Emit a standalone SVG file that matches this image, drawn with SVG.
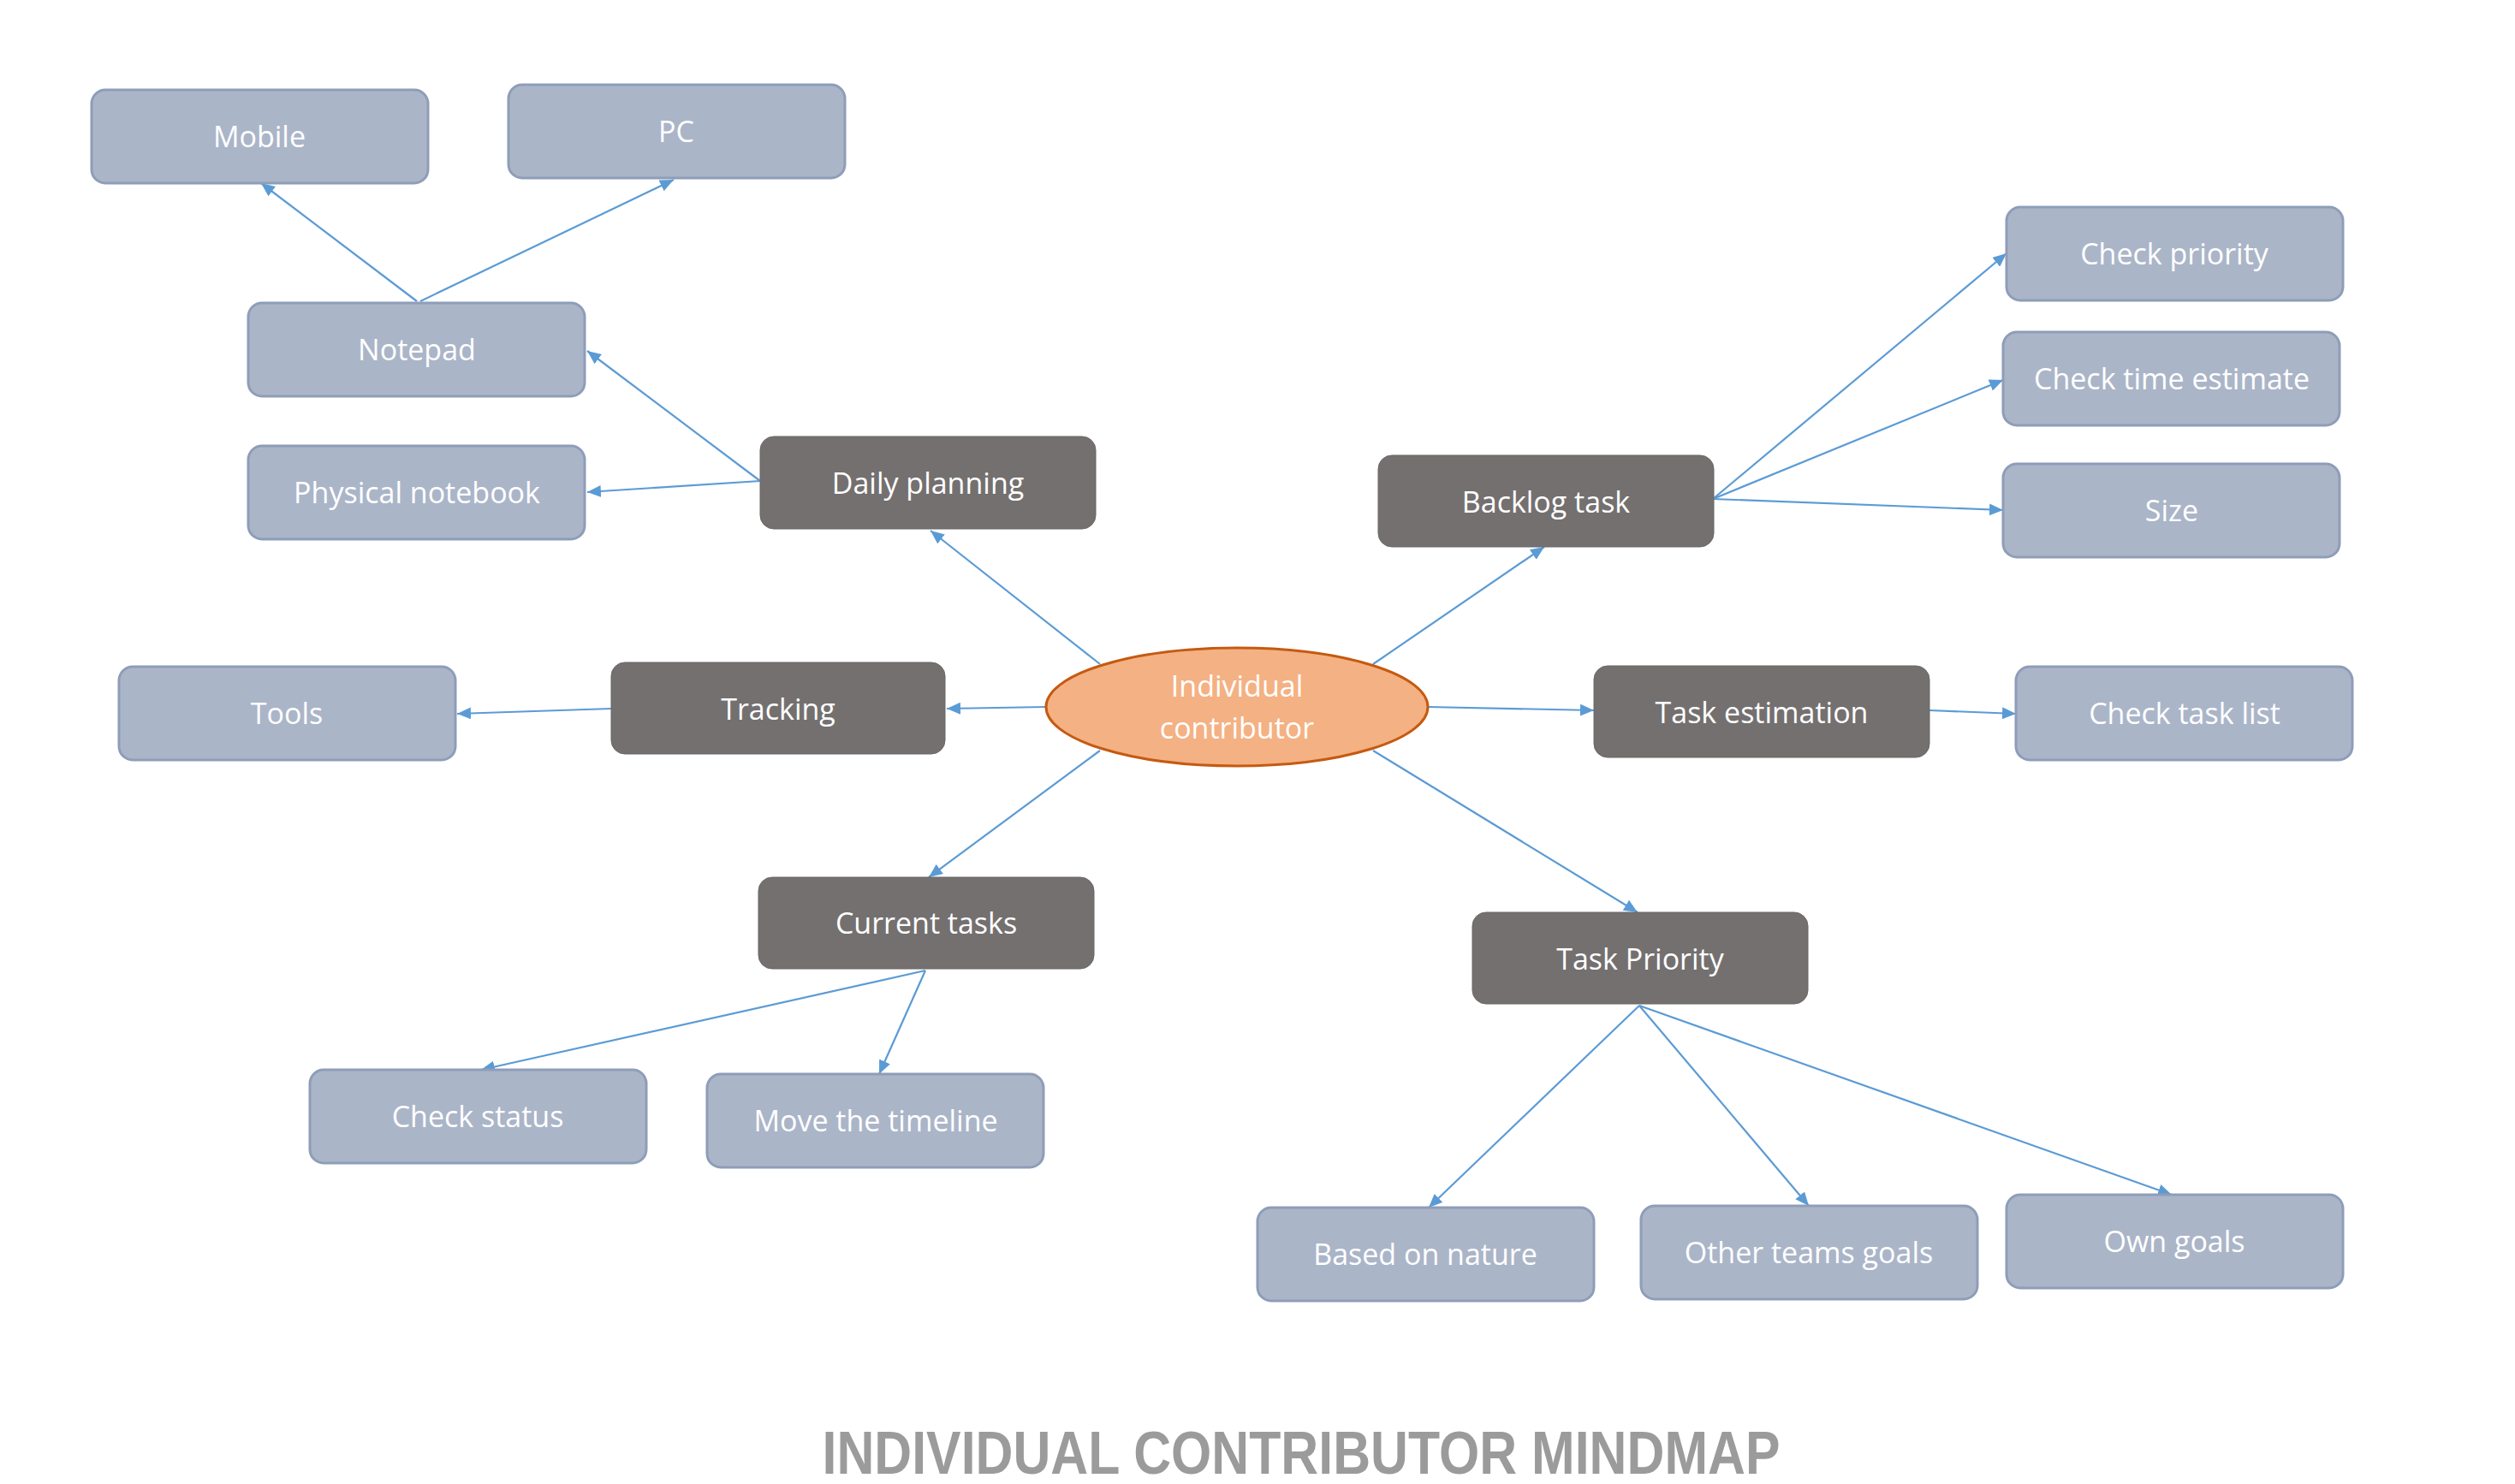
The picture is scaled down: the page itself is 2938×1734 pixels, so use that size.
<svg xmlns="http://www.w3.org/2000/svg" width="2938" height="1734" viewBox="0 0 2938 1734">
<defs>
<marker id="arr" markerUnits="userSpaceOnUse" markerWidth="18" markerHeight="14" refX="16" refY="7" orient="auto">
<path d="M0,0 L16,7 L0,14 Z" fill="#5B9BD5"/>
</marker>
<style>
.lt rect{fill:#ABB5C8;stroke:#8E9DB8;stroke-width:3}
.dk rect{fill:#747070;stroke:#6a6666;stroke-width:1}
text{font-family:"Open Sans","Liberation Sans",sans-serif;font-size:34px;fill:#ffffff;text-anchor:middle}
.c line{stroke:#5B9BD5;stroke-width:2.2;marker-end:url(#arr)}
.title{font-family:"Liberation Sans",Arial,sans-serif;font-weight:bold;font-size:70px;fill:#9B9B9B}
</style>
</defs>
<rect width="2938" height="1734" fill="#ffffff"/>
<g id="connectors" class="c">
<line x1="487" y1="352" x2="305" y2="214"/>
<line x1="491" y1="352" x2="787" y2="210"/>
<line x1="888" y1="562" x2="686" y2="410"/>
<line x1="888" y1="562" x2="686" y2="575"/>
<line x1="1285" y1="776" x2="1087" y2="620"/>
<line x1="1222" y1="826" x2="1106" y2="828"/>
<line x1="714" y1="828" x2="534" y2="834"/>
<line x1="1285" y1="877" x2="1085" y2="1025"/>
<line x1="1081" y1="1134" x2="562" y2="1250"/>
<line x1="1081" y1="1134" x2="1027" y2="1255"/>
<line x1="1604" y1="776" x2="1804" y2="639"/>
<line x1="1668" y1="826" x2="1862" y2="830"/>
<line x1="2254" y1="830" x2="2355" y2="834"/>
<line x1="1604" y1="877" x2="1913" y2="1066"/>
<line x1="2001" y1="583" x2="2344" y2="296"/>
<line x1="2001" y1="583" x2="2340" y2="444"/>
<line x1="2001" y1="583" x2="2340" y2="596"/>
<line x1="1915" y1="1175" x2="1669" y2="1411"/>
<line x1="1915" y1="1175" x2="2113" y2="1409"/>
<line x1="1915" y1="1175" x2="2537" y2="1396"/>
</g>
<g id="center">
<ellipse cx="1445" cy="826" rx="223" ry="69" fill="#F4B183" stroke="#C55A11" stroke-width="3"/>
<text x="1445" y="814">Individual</text>
<text x="1445" y="863">contributor</text>
</g>
<g id="mobile" class="lt"><rect x="107" y="105" width="393" height="109" rx="16"/><text x="303" y="172">Mobile</text></g>
<g id="pc" class="lt"><rect x="594" y="99" width="393" height="109" rx="16"/><text x="790" y="166">PC</text></g>
<g id="notepad" class="lt"><rect x="290" y="354" width="393" height="109" rx="16"/><text x="487" y="421">Notepad</text></g>
<g id="physical-notebook" class="lt"><rect x="290" y="521" width="393" height="109" rx="16"/><text x="487" y="588">Physical notebook</text></g>
<g id="daily-planning" class="dk"><rect x="888" y="510" width="392" height="108" rx="16"/><text x="1084" y="577">Daily planning</text></g>
<g id="tools" class="lt"><rect x="139" y="779" width="393" height="109" rx="16"/><text x="335" y="846">Tools</text></g>
<g id="tracking" class="dk"><rect x="714" y="774" width="390" height="107" rx="16"/><text x="909" y="841">Tracking</text></g>
<g id="backlog-task" class="dk"><rect x="1610" y="532" width="392" height="107" rx="16"/><text x="1806" y="599">Backlog task</text></g>
<g id="check-priority" class="lt"><rect x="2344" y="242" width="393" height="109" rx="16"/><text x="2540" y="309">Check priority</text></g>
<g id="check-time-estimate" class="lt"><rect x="2340" y="388" width="393" height="109" rx="16"/><text x="2537" y="455">Check time estimate</text></g>
<g id="size" class="lt"><rect x="2340" y="542" width="393" height="109" rx="16"/><text x="2537" y="609">Size</text></g>
<g id="task-estimation" class="dk"><rect x="1862" y="778" width="392" height="107" rx="16"/><text x="2058" y="845">Task estimation</text></g>
<g id="check-task-list" class="lt"><rect x="2355" y="779" width="393" height="109" rx="16"/><text x="2552" y="846">Check task list</text></g>
<g id="current-tasks" class="dk"><rect x="886" y="1025" width="392" height="107" rx="16"/><text x="1082" y="1091">Current tasks</text></g>
<g id="check-status" class="lt"><rect x="362" y="1250" width="393" height="109" rx="16"/><text x="558" y="1317">Check status</text></g>
<g id="move-the-timeline" class="lt"><rect x="826" y="1255" width="393" height="109" rx="16"/><text x="1023" y="1322">Move the timeline</text></g>
<g id="task-priority" class="dk"><rect x="1720" y="1066" width="392" height="107" rx="16"/><text x="1916" y="1133">Task Priority</text></g>
<g id="based-on-nature" class="lt"><rect x="1469" y="1411" width="393" height="109" rx="16"/><text x="1665" y="1478">Based on nature</text></g>
<g id="other-teams-goals" class="lt"><rect x="1917" y="1409" width="393" height="109" rx="16"/><text x="2113" y="1476">Other teams goals</text></g>
<g id="own-goals" class="lt"><rect x="2344" y="1396" width="393" height="109" rx="16"/><text x="2540" y="1463">Own goals</text></g>
<text class="title" x="1520" y="1722" textLength="1119" lengthAdjust="spacingAndGlyphs">INDIVIDUAL CONTRIBUTOR MINDMAP</text>
</svg>
